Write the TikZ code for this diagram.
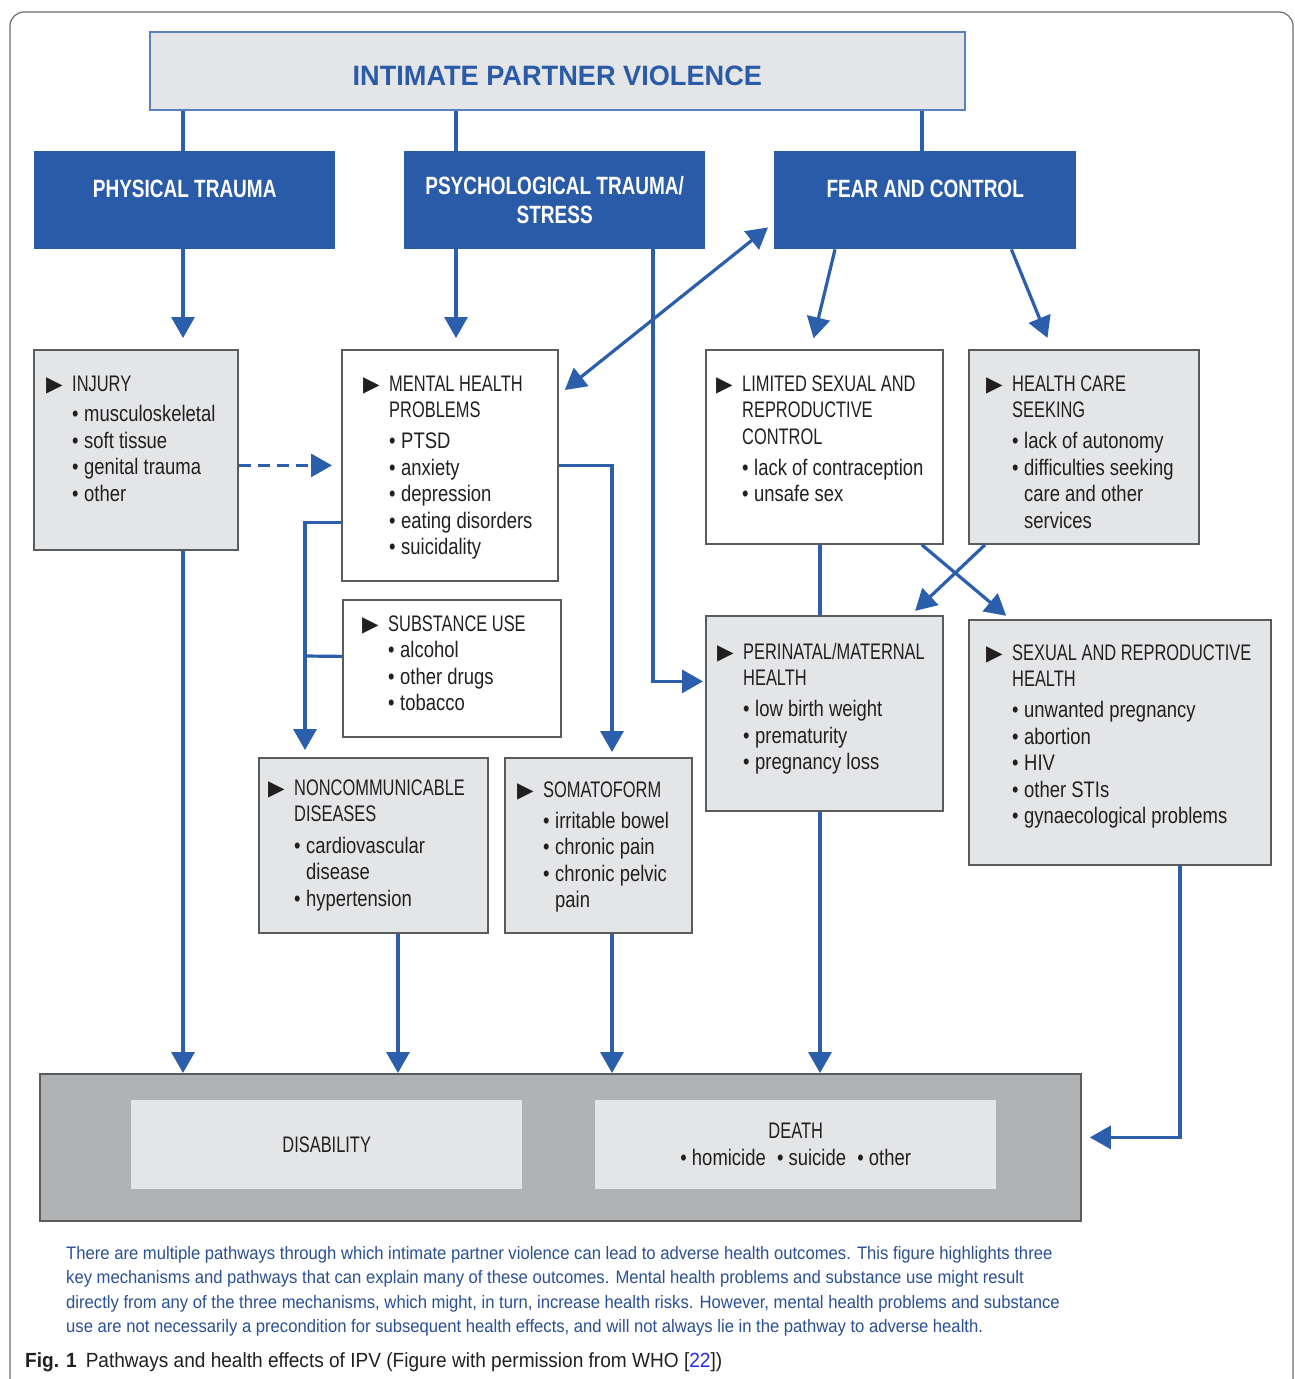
\documentclass[tikz,border=0pt]{standalone}
\usepackage{fontspec}
\setmainfont[FakeStretch=0.82]{Liberation Sans}
\newfontfamily\hdfont[FakeStretch=0.73]{Liberation Sans}
\newfontfamily\blfont[FakeStretch=0.76]{Liberation Sans}
\newfontfamily\ttlfont[FakeStretch=0.97]{Liberation Sans}
\newfontfamily\capnfont[FakeStretch=0.925]{Liberation Sans}
\newfontfamily\figfont[FakeStretch=0.93]{Liberation Sans}
\newfontfamily\trifont{DejaVu Sans}
\usetikzlibrary{arrows.meta}
\definecolor{ipvblue}{HTML}{2A5BA8}
\definecolor{ipvedge}{HTML}{5B80BF}
\definecolor{arrblue}{HTML}{2B5EAB}
\definecolor{boxgray}{HTML}{E4E5E7}
\definecolor{botgray}{HTML}{B1B2B4}
\definecolor{edgegray}{HTML}{5A5B5D}
\definecolor{txtblack}{HTML}{231F20}
\definecolor{capblue}{HTML}{2B5094}
\definecolor{linkblue}{HTML}{2A2AF5}
\definecolor{framegray}{HTML}{6D6E70}

\newcommand{\tri}{\makebox[26pt][l]{\trifont\fontsize{21.5}{21.5}\selectfont ▶}}
\newcommand{\blt}{\makebox[12pt][l]{\textbullet}}
\newcommand{\hd}[1]{\multicolumn{2}{@{}l@{}}{\hdfont #1}}

\begin{document}
\begin{tikzpicture}[x=1pt, y=-1pt,
  every node/.style={inner sep=0pt, text=txtblack},
  gbox/.style={draw=edgegray, line width=1.8pt, fill=boxgray, anchor=north west},
  wbox/.style={gbox, fill=white},
  bbox/.style={fill=ipvblue, anchor=north west, text=white, align=center,
    font=\blfont\bfseries\fontsize{25}{29}\selectfont},
  inbox/.style={fill=boxgray, anchor=north west, align=center,
    font=\fontsize{22.5}{27}\selectfont},
  txt/.style={anchor=base west, font=\fontsize{22.5}{26.5}\selectfont},
  link/.style={draw=arrblue, line width=3.2pt},
  arr/.style={link, -{Triangle[length=21pt, width=23pt]}},
  dbl/.style={link, {Triangle[length=21pt, width=23pt]}-{Triangle[length=21pt, width=23pt]}},
]
\useasboundingbox (0,0) rectangle (1295,1379);
\clip (0,0) rectangle (1295,1379);
\fill[white] (0,0) rectangle (1295,1379);
\draw[framegray, line width=1.2pt, rounded corners=14pt] (10,1400) -- (10,12) -- (1293,12) -- (1293,1400);

\node[gbox, draw=ipvedge, line width=1.6pt, minimum width=815, minimum height=78, text=ipvblue,
  font=\ttlfont\bfseries\fontsize{28}{30}\selectfont, text height=30pt] (ipv) at (149,31) {INTIMATE PARTNER VIOLENCE};

\node[bbox, minimum width=301, minimum height=98, text height=18pt, text depth=24pt] (phys) at (34,151) {PHYSICAL TRAUMA};
\node[bbox, minimum width=301, minimum height=98] (psy) at (404,151) {PSYCHOLOGICAL TRAUMA/\\STRESS};
\node[bbox, minimum width=302, minimum height=98, text height=18pt, text depth=24pt] (fear) at (774,151) {FEAR AND CONTROL};

\node[gbox, minimum width=204, minimum height=200] (inj) at (33,349) {};
\node[wbox, minimum width=216, minimum height=231] (ment) at (341,349) {};
\node[wbox, minimum width=218, minimum height=137] (subst) at (342,599) {};
\node[wbox, minimum width=237, minimum height=194] (lim) at (705,349) {};
\node[gbox, minimum width=230, minimum height=194] (hcs) at (968,349) {};
\node[gbox, minimum width=237, minimum height=195] (peri) at (705,615) {};
\node[gbox, minimum width=302, minimum height=245] (srh) at (968,619) {};
\node[gbox, minimum width=229, minimum height=175] (ncd) at (258,757) {};
\node[gbox, minimum width=187, minimum height=175] (som) at (504,757) {};
\node[gbox, fill=botgray, minimum width=1041, minimum height=147] (bot) at (39,1073) {};
\node[inbox, minimum width=391, minimum height=89] (dis) at (131,1100) {\hdfont DISABILITY};
\node[inbox, minimum width=401, minimum height=89] (dea) at (595,1100)
  {{\hdfont DEATH}\\\textbullet\ homicide\enspace\textbullet\ suicide\enspace\textbullet\ other};

\node[txt] (injT) at (46,391) {\begin{tabular}[t]{@{}l@{}l@{}l@{}}
\tri & \hd{INJURY}\\[4pt]
& \blt & musculoskeletal\\
& \blt & soft tissue\\
& \blt & genital trauma\\
& \blt & other
\end{tabular}};
\node[txt] (mentT) at (363,391) {\begin{tabular}[t]{@{}l@{}l@{}l@{}}
\tri & \hd{MENTAL HEALTH}\\
& \hd{PROBLEMS}\\[4.5pt]
& \blt & PTSD\\
& \blt & anxiety\\
& \blt & depression\\
& \blt & eating disorders\\
& \blt & suicidality
\end{tabular}};
\node[txt] (substT) at (362,631) {\begin{tabular}[t]{@{}l@{}l@{}l@{}}
\tri & \hd{SUBSTANCE USE}\\
& \blt & alcohol\\
& \blt & other drugs\\
& \blt & tobacco
\end{tabular}};
\node[txt] (limT) at (716,391) {\begin{tabular}[t]{@{}l@{}l@{}l@{}}
\tri & \hd{LIMITED SEXUAL AND}\\
& \hd{REPRODUCTIVE}\\
& \hd{CONTROL}\\[4.5pt]
& \blt & lack of contraception\\
& \blt & unsafe sex
\end{tabular}};
\node[txt] (hcsT) at (986,391) {\begin{tabular}[t]{@{}l@{}l@{}l@{}}
\tri & \hd{HEALTH CARE}\\
& \hd{SEEKING}\\[4.5pt]
& \blt & lack of autonomy\\
& \blt & difficulties seeking\\
& & care and other\\
& & services
\end{tabular}};
\node[txt] (periT) at (717,659) {\begin{tabular}[t]{@{}l@{}l@{}l@{}}
\tri & \hd{PERINATAL/MATERNAL}\\
& \hd{HEALTH}\\[4.5pt]
& \blt & low birth weight\\
& \blt & prematurity\\
& \blt & pregnancy loss
\end{tabular}};
\node[txt] (srhT) at (986,660) {\begin{tabular}[t]{@{}l@{}l@{}l@{}}
\tri & \hd{SEXUAL AND REPRODUCTIVE}\\
& \hd{HEALTH}\\[4.5pt]
& \blt & unwanted pregnancy\\
& \blt & abortion\\
& \blt & HIV\\
& \blt & other STIs\\
& \blt & gynaecological problems
\end{tabular}};
\node[txt] (ncdT) at (268,795) {\begin{tabular}[t]{@{}l@{}l@{}l@{}}
\tri & \hd{NONCOMMUNICABLE}\\
& \hd{DISEASES}\\[5pt]
& \blt & cardiovascular\\
& & disease\\
& \blt & hypertension
\end{tabular}};
\node[txt] (somT) at (517,797) {\begin{tabular}[t]{@{}l@{}l@{}l@{}}
\tri & \hd{SOMATOFORM}\\[4.5pt]
& \blt & irritable bowel\\
& \blt & chronic pain\\
& \blt & chronic pelvic\\
& & pain
\end{tabular}};

\node[anchor=base west, text=capblue, font=\capnfont\fontsize{18}{24.5}\selectfont] (capT) at (66,1259) {\begin{tabular}[t]{@{}l@{}}
There are multiple pathways through which intimate partner violence can lead to adverse health outcomes. This figure highlights three\\
key mechanisms and pathways that can explain many of these outcomes. Mental health problems and substance use might result\\
directly from any of the three mechanisms, which might, in turn, increase health risks. However, mental health problems and substance\\
use are not necessarily a precondition for subsequent health effects, and will not always lie in the pathway to adverse health.
\end{tabular}};
\node[anchor=base west, font=\figfont\fontsize{20.5}{22}\selectfont] (figT) at (25,1367)
  {\textbf{Fig. 1}\hspace{9pt}Pathways and health effects of IPV (Figure with permission from WHO [{\color{linkblue}22}])};

\coordinate (xa) at (183,0);
\coordinate (xb) at (456,0);
\coordinate (xc) at (653,0);
\coordinate (xd) at (922,0);
\coordinate (xe) at (305,656);
\coordinate (xf) at (612,0);
\coordinate (xg) at (398,0);
\coordinate (xh) at (820,0);
\coordinate (xi) at (1180,0);

\draw[link] (ipv.south -| xa) -- (phys.north -| xa);
\draw[link] (ipv.south -| xb) -- (psy.north -| xb);
\draw[link] (ipv.south -| xd) -- (fear.north -| xd);
\draw[arr, shorten >=11pt] (phys.south -| xa) -- (inj.north -| xa);
\draw[arr, shorten >=11pt] (psy.south -| xb) -- (ment.north -| xb);
\draw[arr, shorten >=11pt] ([xshift=61]fear.south west) -- ([xshift=106]lim.north west);
\draw[arr, shorten >=12pt] ([xshift=-65]fear.south east) -- ([xshift=84]hcs.north west);
\draw[dbl] ([xshift=6,yshift=-41]ment.north east) -- ([xshift=-6,yshift=22]fear.south west);
\draw[arr, shorten >=2pt] (psy.south -| xc) |- ([yshift=32]peri.west);
\draw[arr, dash pattern=on 12pt off 7pt, shorten >=9pt] (inj.east |- ment.west) -- (ment.west);
\draw[arr, shorten >=7pt] ([yshift=-57]ment.west) -| (ncd.north -| xe);
\draw[link] ([yshift=12]subst.west) -- (xe);
\draw[arr, shorten >=5pt] (ment.east) -| (som.north -| xf);
\draw[link] (lim.south -| xh) -- (peri.north -| xh);
\draw[arr, shorten >=5pt] ([xshift=-22]lim.south east) -- ([xshift=42]srh.north west);
\draw[arr, shorten >=6pt] ([xshift=17]hcs.south west) -- ([xshift=-33]peri.north east);
\draw[arr] (inj.south -| xa) -- (bot.north -| xa);
\draw[arr] (ncd.south -| xg) -- (bot.north -| xg);
\draw[arr] (som.south -| xf) -- (bot.north -| xf);
\draw[arr] (peri.south -| xh) -- (bot.north -| xh);
\draw[arr, shorten >=8pt] (srh.south -| xi) |- ([yshift=10]bot.east);
\end{tikzpicture}
\end{document}
